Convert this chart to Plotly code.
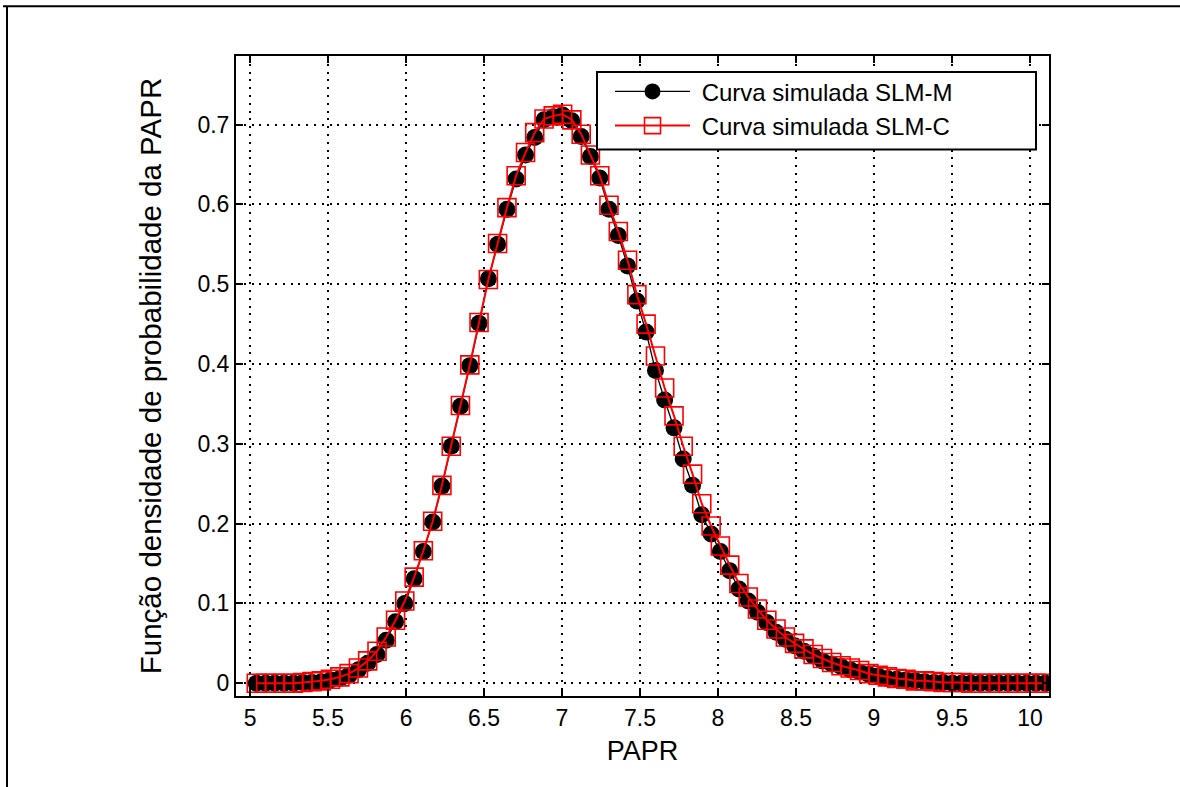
import plotly.graph_objects as go

# PAPR bin centres (x) and estimated densities
papr = [5.040, 5.100, 5.159, 5.219, 5.278, 5.338, 5.397, 5.457, 5.516, 5.576,
        5.635, 5.695, 5.754, 5.814, 5.873, 5.933, 5.992, 6.052, 6.111, 6.171,
        6.230, 6.290, 6.349, 6.409, 6.468, 6.528, 6.587, 6.647, 6.706, 6.766,
        6.825, 6.885, 6.944, 7.004, 7.063, 7.123, 7.182, 7.242, 7.301, 7.361,
        7.420, 7.480, 7.539, 7.599, 7.658, 7.718, 7.777, 7.837, 7.896, 7.956,
        8.015, 8.075, 8.134, 8.194, 8.253, 8.313, 8.372, 8.432, 8.491, 8.551,
        8.610, 8.670, 8.729, 8.789, 8.848, 8.908, 8.967, 9.027, 9.086, 9.146,
        9.205, 9.265, 9.324, 9.384, 9.443, 9.503, 9.562, 9.622, 9.681, 9.741,
        9.800, 9.860, 9.919, 9.979, 10.038, 10.098]

pdf_slm_m = [0.000, 0.000, 0.000, 0.000, 0.000, 0.001, 0.001, 0.002, 0.004, 0.006,
             0.010, 0.017, 0.025, 0.036, 0.054, 0.077, 0.100, 0.131, 0.165, 0.202,
             0.247, 0.297, 0.347, 0.398, 0.451, 0.507, 0.550, 0.594, 0.632, 0.662,
             0.684, 0.706, 0.710, 0.712, 0.705, 0.685, 0.660, 0.633, 0.594, 0.561,
             0.523, 0.479, 0.440, 0.392, 0.355, 0.320, 0.281, 0.248, 0.211, 0.187,
             0.165, 0.141, 0.118, 0.103, 0.089, 0.076, 0.064, 0.055, 0.047, 0.040,
             0.034, 0.028, 0.024, 0.021, 0.017, 0.014, 0.011, 0.009, 0.006, 0.005,
             0.004, 0.003, 0.002, 0.001, 0.001, 0.000, 0.000, 0.000, 0.000, 0.000,
             0.000, 0.000, 0.000, 0.000, 0.000, 0.000]

pdf_slm_c = [0.000, 0.000, 0.000, 0.000, 0.000, 0.001, 0.002, 0.003, 0.005, 0.008,
             0.012, 0.019, 0.028, 0.040, 0.058, 0.079, 0.103, 0.133, 0.166, 0.203,
             0.248, 0.297, 0.348, 0.399, 0.452, 0.506, 0.551, 0.596, 0.636, 0.665,
             0.690, 0.707, 0.711, 0.713, 0.706, 0.688, 0.662, 0.636, 0.599, 0.566,
             0.530, 0.487, 0.450, 0.410, 0.370, 0.335, 0.297, 0.262, 0.225, 0.197,
             0.172, 0.148, 0.125, 0.108, 0.093, 0.079, 0.068, 0.058, 0.050, 0.043,
             0.036, 0.031, 0.026, 0.022, 0.019, 0.016, 0.012, 0.010, 0.008, 0.006,
             0.005, 0.003, 0.003, 0.002, 0.001, 0.001, 0.001, 0.000, 0.000, 0.000,
             0.000, 0.000, 0.000, 0.000, 0.000, 0.000]

x_ticks = [5, 5.5, 6, 6.5, 7, 7.5, 8, 8.5, 9, 9.5, 10]
x_tick_labels = ["5", "5.5", "6", "6.5", "7", "7.5", "8", "8.5", "9", "9.5", "10"]
y_ticks = [0, 0.1, 0.2, 0.3, 0.4, 0.5, 0.6, 0.7]
y_tick_labels = ["0", "0.1", "0.2", "0.3", "0.4", "0.5", "0.6", "0.7"]

FONT = "Liberation Sans, Arial, Helvetica, sans-serif"

fig = go.Figure()
fig.add_trace(go.Scatter(
    x=papr, y=pdf_slm_m, mode="lines+markers", name="\u00a0Curva simulada SLM-M",
    line=dict(color="black", width=1.3),
    marker=dict(symbol="circle", size=17, color="black"),
))
fig.add_trace(go.Scatter(
    x=papr, y=pdf_slm_c, mode="lines+markers", name="\u00a0Curva simulada SLM-C",
    line=dict(color="red", width=2),
    marker=dict(symbol="square-open", size=18, color="red", line=dict(width=1.6, color="red")),
))

axis_common = dict(
    showline=True, linecolor="black", linewidth=2, mirror="ticks",
    ticks="inside", ticklen=7, tickwidth=1.5, tickcolor="black",
    showgrid=True, gridcolor="black", griddash="2px,5.8px", gridwidth=2,
    zeroline=False, tickfont=dict(family=FONT, size=23, color="black"),
)

fig.update_xaxes(
    range=[4.91, 10.122], tickvals=x_ticks, ticktext=x_tick_labels,
    title=dict(text="PAPR", font=dict(family=FONT, size=27, color="black"), standoff=12),
    **axis_common,
)
fig.update_yaxes(
    range=[-0.016, 0.786], tickvals=y_ticks, ticktext=y_tick_labels,
    title=dict(text="Função densidade de probabilidade da PAPR",
               font=dict(family=FONT, size=29.5, color="black"), standoff=27),
    **axis_common,
)

L, R, T, B = 236, 1049, 55.7, 696
W, H = 1180, 787
pw, ph = R - L, B - T

# outer figure frame (only top and left edges visible in the reference)
fig.add_shape(type="line", xref="paper", yref="paper",
              x0=(3 - L) / pw, x1=(W + 5 - L) / pw,
              y0=(B - 6) / ph, y1=(B - 6) / ph, line=dict(color="black", width=2))
fig.add_shape(type="line", xref="paper", yref="paper",
              x0=(7 - L) / pw, x1=(7 - L) / pw,
              y0=(B - 6) / ph, y1=(B - W) / ph, line=dict(color="black", width=2))

# legend frame
fig.add_shape(type="rect", xref="paper", yref="paper", layer="above",
              x0=(597 - L) / pw, x1=(1036 - L) / pw,
              y0=(B - 71.7) / ph, y1=(B - 149.3) / ph,
              fillcolor="white", line=dict(color="black", width=2))

fig.update_layout(
    width=W, height=H,
    margin=dict(l=L, r=W - R, t=T, b=H - B),
    paper_bgcolor="white", plot_bgcolor="white",
    font=dict(family=FONT, color="black"),
    showlegend=True,
    legend=dict(
        x=(610 - L) / pw, y=(B - 69) / ph, xanchor="left", yanchor="top",
        bgcolor="rgba(0,0,0,0)", borderwidth=0,
        font=dict(family=FONT, size=24, color="black"),
        itemwidth=75, tracegroupgap=0,
    ),
)

fig.write_html("out.html")
